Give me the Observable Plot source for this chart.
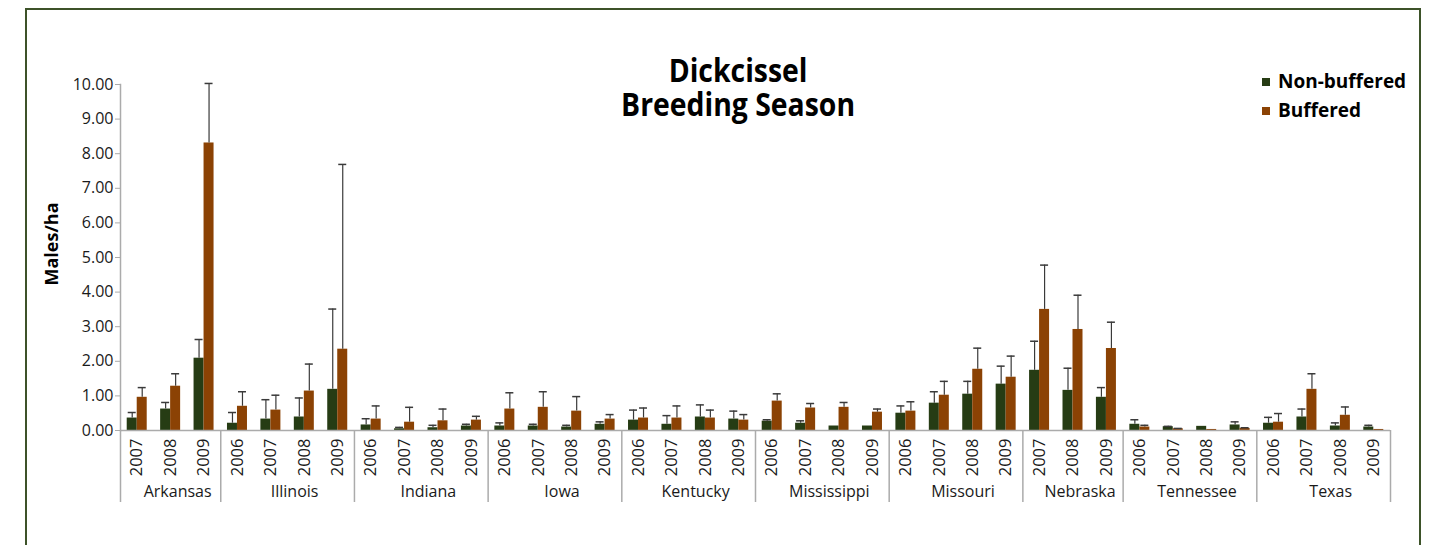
<!DOCTYPE html>
<html>
<head>
<meta charset="utf-8">
<script src="https://cdn.jsdelivr.net/npm/d3@7"></script>
<script src="https://cdn.jsdelivr.net/npm/@observablehq/plot@0.6"></script>
<style>
  body { margin: 0; background: #fff; }
  #wrap { position: relative; width: 1440px; height: 545px; overflow: hidden; font-family: "Open Sans", sans-serif; }
  #border { position: absolute; left: 25px; top: 8px; width: 1392px; height: 600px; border: 2px solid #3d5229; pointer-events: none; }
  #title { position: absolute; top: 53px; font-family: "Open Sans", sans-serif; font-weight: bold; font-size: 33px; color: #000; line-height: 34px; white-space: pre; text-align: center; transform-origin: 50% 0; }
  .legend { position: absolute; left: 1262px; font-family: "Open Sans", sans-serif; font-weight: bold; font-size: 19px; color: #000; white-space: nowrap; line-height: 1; display: flex; align-items: center; }
  .legend span.sw { display: inline-block; width: 8px; height: 8px; margin-right: 8px; }
  #ylabel { position: absolute; left: 51px; top: 244px; transform: translate(-50%, -50%) rotate(-90deg); font-family: "Open Sans", sans-serif; font-weight: bold; font-size: 18px; white-space: nowrap; }
  #chart svg { position: absolute; left: 0; top: 0; }
</style>
</head>
<body>
<div id="wrap">
  <div id="chart"></div>
  <div id="border"></div>
  <div id="title"></div>
  <div class="legend" id="leg1" style="top:72px;"></div>
  <div class="legend" id="leg2" style="top:101px;"></div>
  <div id="ylabel"></div>
</div>
<script>
// ---- Data ----
const titleLines = ["Dickcissel", "Breeding Season"];
const yAxisLabel = "Males/ha";
const seriesNames = ["Non-buffered", "Buffered"];
const seriesColors = ["#263c14", "#8b4204"];

const states = ["Arkansas", "Illinois", "Indiana", "Iowa", "Kentucky", "Mississippi", "Missouri", "Nebraska", "Tennessee", "Texas"];
const stateYears = [
  [2007, 2008, 2009],
  [2006, 2007, 2008, 2009],
  [2006, 2007, 2008, 2009],
  [2006, 2007, 2008, 2009],
  [2006, 2007, 2008, 2009],
  [2006, 2007, 2008, 2009],
  [2006, 2007, 2008, 2009],
  [2007, 2008, 2009],
  [2006, 2007, 2008, 2009],
  [2006, 2007, 2008, 2009]
];
// mean values (in order of states/years above)
const nonBuffered = [
  0.36, 0.62, 2.09,
  0.21, 0.33, 0.39, 1.19,
  0.16, 0.05, 0.08, 0.13,
  0.13, 0.13, 0.10, 0.18,
  0.30, 0.18, 0.39, 0.33,
  0.27, 0.21, 0.13, 0.13,
  0.50, 0.79, 1.05, 1.34,
  1.74, 1.16, 0.96,
  0.18, 0.11, 0.12, 0.16,
  0.21, 0.39, 0.13, 0.10
];
// top of error bar
const nonBufferedUpper = [
  0.52, 0.81, 2.63,
  0.52, 0.89, 0.94, 3.51,
  0.34, 0.09, 0.15, 0.18,
  0.22, 0.18, 0.15, 0.25,
  0.59, 0.43, 0.74, 0.56,
  0.31, 0.28, 0.13, 0.13,
  0.71, 1.12, 1.42, 1.86,
  2.58, 1.80, 1.24,
  0.31, 0.12, 0.12, 0.25,
  0.38, 0.62, 0.22, 0.15
];
const buffered = [
  0.96, 1.28, 8.31,
  0.70, 0.59, 1.14, 2.35,
  0.33, 0.24, 0.28, 0.30,
  0.62, 0.67, 0.56, 0.33,
  0.36, 0.36, 0.36, 0.30,
  0.85, 0.65, 0.67, 0.53,
  0.56, 1.02, 1.77, 1.54,
  3.50, 2.92, 2.37,
  0.10, 0.05, 0.03, 0.06,
  0.24, 1.19, 0.44, 0.03
];
const bufferedUpper = [
  1.24, 1.64, 10.03,
  1.12, 1.02, 1.92, 7.69,
  0.71, 0.67, 0.62, 0.41,
  1.09, 1.12, 0.98, 0.46,
  0.65, 0.71, 0.59, 0.46,
  1.06, 0.78, 0.81, 0.62,
  0.83, 1.42, 2.38, 2.15,
  4.78, 3.91, 3.13,
  0.15, 0.06, 0.03, 0.08,
  0.49, 1.64, 0.68, 0.03
];
const yTicks = [0, 1, 2, 3, 4, 5, 6, 7, 8, 9, 10];

// ---- Build table ----
const rows = [];
let idx = 0;
states.forEach((s, si) => {
  stateYears[si].forEach(yr => {
    rows.push({
      key: s + "|" + yr, state: s, year: String(yr),
      nb: nonBuffered[idx], nbU: nonBufferedUpper[idx],
      b: buffered[idx], bU: bufferedUpper[idx]
    });
    idx++;
  });
});
const keys = rows.map(d => d.key);
const groups = states.map((s, si) => {
  const ks = keys.filter(k => k.startsWith(s + "|"));
  return { state: s, first: ks[0], last: ks[ks.length - 1], mid: ks[Math.floor(ks.length / 2)], n: ks.length };
});

const W = 1440, H = 545;
const mL = 120, mR = 50, mT = 84, mB = 115;
const bw = (W - mL - mR) / keys.length;
const barW = 10;
const barInset = (bw - barW) / 2;
const capInset = (bw - 8) / 2;
const axisGrey = "#ababab";
const errColor = "#3a3a3a";

const nbErr = rows.filter(d => d.nbU > d.nb);
const bErr = rows.filter(d => d.bU > d.b);

const evenGroups = groups.filter(g => g.n % 2 === 0);
const oddGroups = groups.filter(g => g.n % 2 === 1);

const plot = Plot.plot({
  width: W, height: H,
  marginLeft: mL, marginRight: mR, marginTop: mT, marginBottom: mB,
  style: { fontFamily: "'Open Sans', sans-serif", background: "transparent", overflow: "visible" },
  x: { type: "band", domain: keys, paddingInner: 0, paddingOuter: 0, round: false, label: null },
  y: { domain: [0, 10], label: null },
  marks: [
    Plot.frame({ anchor: "left", stroke: axisGrey, strokeWidth: 1.5 }),
    Plot.axisY({ ticks: yTicks, tickFormat: d => d.toFixed(2), tickSize: 5, tickPadding: 2, fontSize: 16, stroke: axisGrey, fill: "#1a1a1a", label: null }),
    Plot.barY(rows, { x: "key", y: "nb", fill: seriesColors[0], insetLeft: barInset, insetRight: barInset, dx: -barW / 2 }),
    Plot.barY(rows, { x: "key", y: "b", fill: seriesColors[1], insetLeft: barInset, insetRight: barInset, dx: barW / 2 }),
    Plot.ruleX(nbErr, { x: "key", y1: "nb", y2: "nbU", dx: -barW / 2, stroke: errColor, strokeWidth: 1.2 }),
    Plot.tickY(nbErr, { x: "key", y: "nbU", dx: -barW / 2, insetLeft: capInset, insetRight: capInset, stroke: errColor, strokeWidth: 1.5 }),
    Plot.ruleX(bErr, { x: "key", y1: "b", y2: "bU", dx: barW / 2, stroke: errColor, strokeWidth: 1.2 }),
    Plot.tickY(bErr, { x: "key", y: "bU", dx: barW / 2, insetLeft: capInset, insetRight: capInset, stroke: errColor, strokeWidth: 1.5 }),
    Plot.ruleY([0], { stroke: axisGrey, strokeWidth: 1.5 }),
    Plot.axisX({ tickFormat: k => k.split("|")[1], tickRotate: -90, tickSize: 0, tickPadding: 8, fontSize: 16.5, fill: "#1a1a1a", label: null }),
    // group separators below axis
    Plot.ruleX(groups, { x: "first", dx: -bw / 2, insetTop: H - mT - mB, insetBottom: -72, stroke: axisGrey, strokeWidth: 1.5 }),
    Plot.ruleX(groups.slice(-1), { x: "last", dx: bw / 2, insetTop: H - mT - mB, insetBottom: -72, stroke: axisGrey, strokeWidth: 1.5 }),
    // group labels
    Plot.text(oddGroups, { x: "mid", text: "state", frameAnchor: "bottom", dy: 61, dx: 7, fontSize: 16, fill: "#1a1a1a", lineAnchor: "middle" }),
    Plot.text(evenGroups, { x: "mid", text: "state", frameAnchor: "bottom", dy: 61, dx: 7 - bw / 2, fontSize: 16, fill: "#1a1a1a", lineAnchor: "middle" })
  ]
});
document.getElementById("chart").appendChild(plot);

// Title: one two-line text block, condensed look via horizontal scaling
const titleEl = document.getElementById("title");
titleEl.textContent = titleLines.join("\n");
const naturalW = titleEl.getBoundingClientRect().width;
const targetW = 234, titleCx = 738;
titleEl.style.left = (titleCx - naturalW / 2) + "px";
titleEl.style.transform = `scaleX(${targetW / naturalW})`;

document.getElementById("ylabel").textContent = yAxisLabel;
[["leg1", 0], ["leg2", 1]].forEach(([id, i]) => {
  const el = document.getElementById(id);
  const sw = document.createElement("span");
  sw.className = "sw";
  sw.style.background = seriesColors[i];
  el.appendChild(sw);
  el.appendChild(document.createTextNode(seriesNames[i]));
});
</script>
</body>
</html>
